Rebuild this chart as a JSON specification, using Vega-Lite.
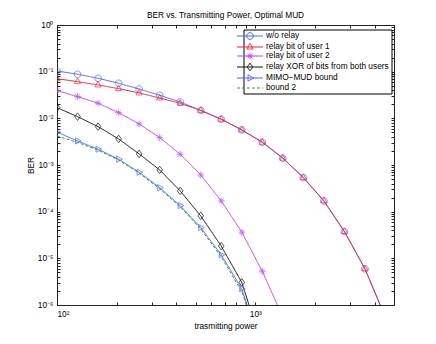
{
  "$schema": "https://vega.github.io/schema/vega-lite/v6.json",
  "width": 337,
  "height": 280,
  "autosize": "none",
  "padding": {"left": 57, "top": 25, "right": 42, "bottom": 39},
  "background": "white",
  "config": {
    "view": {"stroke": null},
    "font": "Liberation Sans",
    "axis": {
      "labelFont": "Liberation Sans", "labelFontSize": 8.3, "labelColor": "black",
      "titleFont": "Liberation Sans", "titleFontSize": 8.3, "titleFontWeight": "normal", "titleColor": "black",
      "domainColor": "#222", "tickColor": "#222", "tickSize": -3, "labelPadding": 7, "grid": false
    }
  },
  "title": {"text": "BER vs. Transmitting Power, Optimal MUD", "font": "Liberation Sans", "fontSize": 8.3, "fontWeight": "normal", "color": "black", "anchor": "middle", "offset": 6, "dy": 12, "baseline": "alphabetic"},
  "data": {"values": [
    {"series": "w/o relay", "x": 100, "y": 0.1035},
    {"series": "w/o relay", "x": 126.9, "y": 0.0879},
    {"series": "w/o relay", "x": 161.1, "y": 0.0722},
    {"series": "w/o relay", "x": 204.4, "y": 0.0565},
    {"series": "w/o relay", "x": 259.4, "y": 0.0426},
    {"series": "w/o relay", "x": 329.3, "y": 0.0312},
    {"series": "w/o relay", "x": 417.8, "y": 0.0225},
    {"series": "w/o relay", "x": 530.3, "y": 0.0148},
    {"series": "w/o relay", "x": 673.0, "y": 0.00957},
    {"series": "w/o relay", "x": 854.1, "y": 0.00565},
    {"series": "w/o relay", "x": 1084, "y": 0.00308},
    {"series": "w/o relay", "x": 1376, "y": 0.0014},
    {"series": "w/o relay", "x": 1746, "y": 0.000537},
    {"series": "w/o relay", "x": 2216, "y": 0.00017},
    {"series": "w/o relay", "x": 2812, "y": 0.0000375},
    {"series": "w/o relay", "x": 3569, "y": 0.00000596},
    {"series": "w/o relay", "x": 4529, "y": 0.00000054},
    {"series": "relay bit of user 1", "x": 100, "y": 0.0708},
    {"series": "relay bit of user 1", "x": 126.9, "y": 0.0611},
    {"series": "relay bit of user 1", "x": 161.1, "y": 0.0519},
    {"series": "relay bit of user 1", "x": 204.4, "y": 0.0433},
    {"series": "relay bit of user 1", "x": 259.4, "y": 0.035},
    {"series": "relay bit of user 1", "x": 329.3, "y": 0.0273},
    {"series": "relay bit of user 1", "x": 417.8, "y": 0.021},
    {"series": "relay bit of user 1", "x": 530.3, "y": 0.0148},
    {"series": "relay bit of user 1", "x": 673.0, "y": 0.00957},
    {"series": "relay bit of user 1", "x": 854.1, "y": 0.00565},
    {"series": "relay bit of user 1", "x": 1084, "y": 0.00308},
    {"series": "relay bit of user 1", "x": 1376, "y": 0.0014},
    {"series": "relay bit of user 1", "x": 1746, "y": 0.000537},
    {"series": "relay bit of user 1", "x": 2216, "y": 0.00017},
    {"series": "relay bit of user 1", "x": 2812, "y": 0.0000375},
    {"series": "relay bit of user 1", "x": 3569, "y": 0.00000596},
    {"series": "relay bit of user 1", "x": 4529, "y": 0.00000054},
    {"series": "relay bit of user 2", "x": 100, "y": 0.0392},
    {"series": "relay bit of user 2", "x": 126.9, "y": 0.0292},
    {"series": "relay bit of user 2", "x": 161.1, "y": 0.0211},
    {"series": "relay bit of user 2", "x": 204.4, "y": 0.01325},
    {"series": "relay bit of user 2", "x": 259.4, "y": 0.00759},
    {"series": "relay bit of user 2", "x": 329.3, "y": 0.00386},
    {"series": "relay bit of user 2", "x": 417.8, "y": 0.0017},
    {"series": "relay bit of user 2", "x": 530.3, "y": 0.000614},
    {"series": "relay bit of user 2", "x": 673.0, "y": 0.00017},
    {"series": "relay bit of user 2", "x": 854.1, "y": 0.0000364},
    {"series": "relay bit of user 2", "x": 1084, "y": 0.00000527},
    {"series": "relay bit of user 2", "x": 1376, "y": 0.00000055},
    {"series": "relay XOR of bits from both users", "x": 100, "y": 0.01695},
    {"series": "relay XOR of bits from both users", "x": 126.9, "y": 0.01087},
    {"series": "relay XOR of bits from both users", "x": 161.1, "y": 0.00664},
    {"series": "relay XOR of bits from both users", "x": 204.4, "y": 0.00362},
    {"series": "relay XOR of bits from both users", "x": 259.4, "y": 0.00173},
    {"series": "relay XOR of bits from both users", "x": 329.3, "y": 0.000785},
    {"series": "relay XOR of bits from both users", "x": 417.8, "y": 0.000279},
    {"series": "relay XOR of bits from both users", "x": 530.3, "y": 0.0000812},
    {"series": "relay XOR of bits from both users", "x": 673.0, "y": 0.0000183},
    {"series": "relay XOR of bits from both users", "x": 854.1, "y": 0.00000306},
    {"series": "relay XOR of bits from both users", "x": 1084, "y": 0.00000013},
    {"series": "MIMO−MUD bound", "x": 100, "y": 0.00504},
    {"series": "MIMO−MUD bound", "x": 126.9, "y": 0.00328},
    {"series": "MIMO−MUD bound", "x": 161.1, "y": 0.00218},
    {"series": "MIMO−MUD bound", "x": 204.4, "y": 0.00133},
    {"series": "MIMO−MUD bound", "x": 259.4, "y": 0.000701},
    {"series": "MIMO−MUD bound", "x": 329.3, "y": 0.000328},
    {"series": "MIMO−MUD bound", "x": 417.8, "y": 0.000135},
    {"series": "MIMO−MUD bound", "x": 530.3, "y": 0.0000457},
    {"series": "MIMO−MUD bound", "x": 673.0, "y": 0.0000119},
    {"series": "MIMO−MUD bound", "x": 854.1, "y": 0.00000222},
    {"series": "MIMO−MUD bound", "x": 1084, "y": 0.0000001},
    {"series": "bound 2", "x": 100, "y": 0.0042},
    {"series": "bound 2", "x": 126.9, "y": 0.00305},
    {"series": "bound 2", "x": 161.1, "y": 0.00208},
    {"series": "bound 2", "x": 204.4, "y": 0.00128},
    {"series": "bound 2", "x": 259.4, "y": 0.00067},
    {"series": "bound 2", "x": 329.3, "y": 0.00031},
    {"series": "bound 2", "x": 417.8, "y": 0.000127},
    {"series": "bound 2", "x": 530.3, "y": 0.0000425},
    {"series": "bound 2", "x": 673.0, "y": 0.0000108},
    {"series": "bound 2", "x": 854.1, "y": 0.00000195},
    {"series": "bound 2", "x": 1084, "y": 0.00000009}
  ]},
  "resolve": {"axis": {"x": "independent", "y": "independent"}},
  "layer": [
    {
      "mark": {"type": "line", "clip": true, "strokeWidth": 1},
      "encoding": {
        "x": {"field": "x", "type": "quantitative",
          "scale": {"type": "log", "domain": [100, 5000], "nice": false},
          "axis": {"orient": "bottom", "title": "trasmitting power", "titlePadding": 4,
            "values": [100,200,300,400,500,600,700,800,900,1000,2000,3000,4000,5000],
            "labelExpr": "abs(datum.value / pow(10, round(log(datum.value)/LN10)) - 1) < 0.01 ? '10' + ['⁰','¹','²','³','⁴'][round(log(datum.value)/LN10)] : ''"}},
        "y": {"field": "y", "type": "quantitative",
          "scale": {"type": "log", "domain": [0.000001, 1], "nice": false},
          "axis": {"orient": "left", "title": "BER", "titlePadding": 2,
            "values": [0.000001,0.000002,0.000003,0.000004,0.000005,0.000006,0.000007,0.000008,0.000009,0.00001,0.00002,0.00003,0.00004,0.00005,0.00006,0.00007,0.00008,0.00009,0.0001,0.0002,0.0003,0.0004,0.0005,0.0006,0.0007,0.0008,0.0009,0.001,0.002,0.003,0.004,0.005,0.006,0.007,0.008,0.009,0.01,0.02,0.03,0.04,0.05,0.06,0.07,0.08,0.09,0.1,0.2,0.3,0.4,0.5,0.6,0.7,0.8,0.9,1],
            "labelExpr": "abs(datum.value / pow(10, round(log(datum.value)/LN10)) - 1) < 0.01 ? '10' + ['⁻⁶','⁻⁵','⁻⁴','⁻³','⁻²','⁻¹','⁰'][round(log(datum.value)/LN10) + 6] : ''"}},
        "color": {"field": "series", "type": "nominal",
          "scale": {"domain": ["w/o relay", "relay bit of user 1", "relay bit of user 2", "relay XOR of bits from both users", "MIMO−MUD bound", "bound 2"],
                    "range": ["#4a66ff", "#f0223a", "#c040ff", "#111111", "#4a66ff", "#3a9a3a"]},
          "legend": {"orient": "none", "legendX": 186.5, "legendY": 4.5, "title": null, "padding": 2,
            "symbolSize": 64, "labelOffset": 11.5, "rowPadding": -1,
            "labelFont": "Liberation Sans", "labelFontSize": 8.3, "labelColor": "black", "labelLimit": 300,
            "strokeColor": "black", "fillColor": "white", "symbolStrokeWidth": 1}},
        "strokeDash": {"field": "series", "type": "nominal", "legend": null,
          "scale": {"domain": ["w/o relay", "relay bit of user 1", "relay bit of user 2", "relay XOR of bits from both users", "MIMO−MUD bound", "bound 2"],
                    "range": [[1,0],[1,0],[1,0],[1,0],[1,0],[3,2]]}}
      }
    },
    {
      "transform": [{"filter": "datum.y > 10"}],
      "mark": {"type": "point", "clip": true, "filled": false, "strokeWidth": 1},
      "encoding": {
        "x": {"field": "x", "type": "quantitative",
          "axis": {"orient": "top", "title": null, "labels": false,
            "values": [100,200,300,400,500,600,700,800,900,1000,2000,3000,4000,5000]}},
        "y": {"field": "y", "type": "quantitative",
          "axis": {"orient": "right", "title": null, "labels": false,
            "values": [0.000001,0.000002,0.000003,0.000004,0.000005,0.000006,0.000007,0.000008,0.000009,0.00001,0.00002,0.00003,0.00004,0.00005,0.00006,0.00007,0.00008,0.00009,0.0001,0.0002,0.0003,0.0004,0.0005,0.0006,0.0007,0.0008,0.0009,0.001,0.002,0.003,0.004,0.005,0.006,0.007,0.008,0.009,0.01,0.02,0.03,0.04,0.05,0.06,0.07,0.08,0.09,0.1,0.2,0.3,0.4,0.5,0.6,0.7,0.8,0.9,1]}},
        "color": {"field": "series", "type": "nominal", "legend": null},
        "strokeDash": {"field": "series", "type": "nominal", "legend": null},
        "shape": {"field": "series", "type": "nominal", "legend": null,
          "scale": {"domain": ["w/o relay", "relay bit of user 1", "relay bit of user 2", "relay XOR of bits from both users", "MIMO−MUD bound", "bound 2"],
                    "range": [
                      "M-3.25,0L3.25,0M0.825,0A0.825,0.825,0,1,1,-0.825,0A0.825,0.825,0,1,1,0.825,0Z",
                      "M-3.25,0L3.25,0M0,-0.9L0.78,0.5L-0.78,0.5Z",
                      "M-3.25,0L3.25,0M-0.825,0L0.825,0M0,-0.825L0,0.825M-0.58,-0.58L0.58,0.58M-0.58,0.58L0.58,-0.58",
                      "M-3.25,0L3.25,0M0,-0.95L0.7,0L0,0.95L-0.7,0Z",
                      "M-3.25,0L3.25,0M0.9,0L-0.5,-0.78L-0.5,0.78Z",
                      "M-3.25,0L3.25,0"]}}
      }
    },
    {
      "transform": [{"filter": "datum.series === 'w/o relay'"}],
      "mark": {"type": "point", "clip": true, "filled": false, "strokeWidth": 1, "size": 44, "shape": "M1,0A1,1,0,1,1,-1,0A1,1,0,1,1,1,0Z"},
      "encoding": {
        "x": {"field": "x", "type": "quantitative", "axis": null},
        "y": {"field": "y", "type": "quantitative", "axis": null},
        "color": {"field": "series", "type": "nominal", "legend": null}
      }
    },
    {
      "transform": [{"filter": "datum.series === 'relay bit of user 1'"}],
      "mark": {"type": "point", "clip": true, "filled": false, "strokeWidth": 1, "size": 44, "shape": "M0,-1.1L0.95,0.6L-0.95,0.6Z"},
      "encoding": {
        "x": {"field": "x", "type": "quantitative", "axis": null},
        "y": {"field": "y", "type": "quantitative", "axis": null},
        "color": {"field": "series", "type": "nominal", "legend": null}
      }
    },
    {
      "transform": [{"filter": "datum.series === 'relay bit of user 2'"}],
      "mark": {"type": "point", "clip": true, "filled": false, "strokeWidth": 1, "size": 44, "shape": "M-1,0L1,0M0,-1L0,1M-0.7,-0.7L0.7,0.7M-0.7,0.7L0.7,-0.7"},
      "encoding": {
        "x": {"field": "x", "type": "quantitative", "axis": null},
        "y": {"field": "y", "type": "quantitative", "axis": null},
        "color": {"field": "series", "type": "nominal", "legend": null}
      }
    },
    {
      "transform": [{"filter": "datum.series === 'relay XOR of bits from both users'"}],
      "mark": {"type": "point", "clip": true, "filled": false, "strokeWidth": 1, "size": 44, "shape": "M0,-1.15L0.85,0L0,1.15L-0.85,0Z"},
      "encoding": {
        "x": {"field": "x", "type": "quantitative", "axis": null},
        "y": {"field": "y", "type": "quantitative", "axis": null},
        "color": {"field": "series", "type": "nominal", "legend": null}
      }
    },
    {
      "transform": [{"filter": "datum.series === 'MIMO−MUD bound'"}],
      "mark": {"type": "point", "clip": true, "filled": false, "strokeWidth": 1, "size": 44, "shape": "M1.1,0L-0.6,-0.95L-0.6,0.95Z"},
      "encoding": {
        "x": {"field": "x", "type": "quantitative", "axis": null},
        "y": {"field": "y", "type": "quantitative", "axis": null},
        "color": {"field": "series", "type": "nominal", "legend": null}
      }
    }
  ]
}
